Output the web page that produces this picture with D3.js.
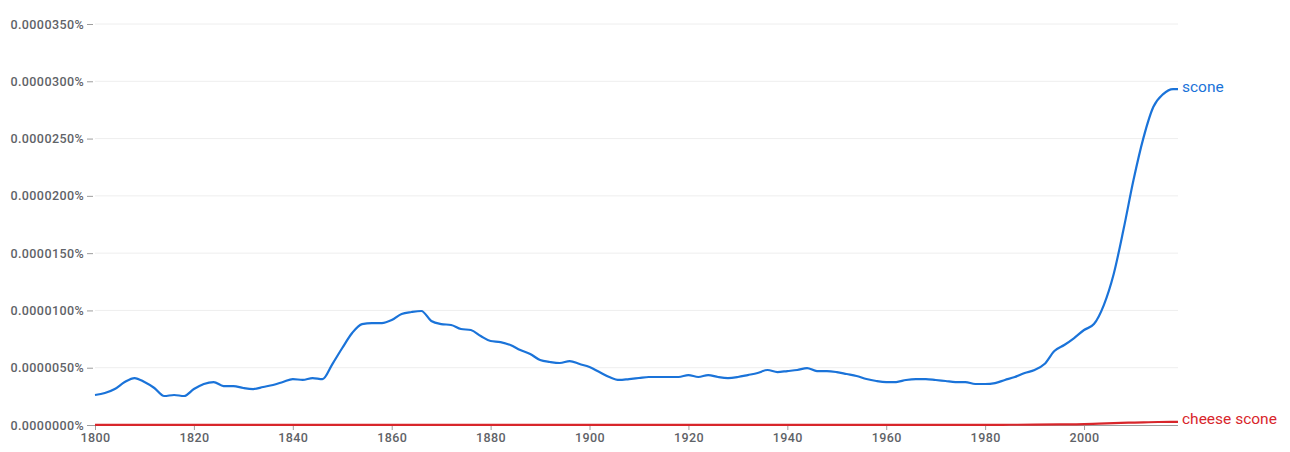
<!doctype html>
<html lang="en">
<head>
  <meta charset="utf-8">
  <script src="https://cdn.jsdelivr.net/npm/d3@7"></script>
  <style>
    body { margin: 0; background: #fff; font-family: Roboto, "Noto Sans", sans-serif; }
    .tick text { font-family: Roboto, sans-serif; }
  </style>
</head>
<body>
<script>
  // years for the scone series (every 2 years + last year)
  var sconeYears = [1800,1802,1804,1806,1808,1810,1812,1814,1816,1818,
    1820,1822,1824,1826,1828,1830,1832,1834,1836,1838,
    1840,1842,1844,1846,1848,1850,1852,1854,1856,1858,
    1860,1862,1864,1866,1868,1870,1872,1874,1876,1878,
    1880,1882,1884,1886,1888,1890,1892,1894,1896,1898,
    1900,1902,1904,1906,1908,1910,1912,1914,1916,1918,
    1920,1922,1924,1926,1928,1930,1932,1934,1936,1938,
    1940,1942,1944,1946,1948,1950,1952,1954,1956,1958,
    1960,1962,1964,1966,1968,1970,1972,1974,1976,1978,
    1980,1982,1984,1986,1988,1990,1992,1994,1996,1998,
    2000,2002,2004,2006,2008,2010,2012,2014,2016,2018,2019];

  // percent values
  var sconeValues = [2.62e-6,2.79e-6,3.14e-6,3.75e-6,4.10e-6,3.75e-6,3.23e-6,2.53e-6,2.62e-6,2.53e-6,
    3.14e-6,3.58e-6,3.75e-6,3.40e-6,3.40e-6,3.23e-6,3.14e-6,3.32e-6,3.49e-6,3.75e-6,
    4.01e-6,3.93e-6,4.10e-6,4.01e-6,5.32e-6,6.72e-6,8.03e-6,8.81e-6,8.90e-6,8.90e-6,
    9.16e-6,9.69e-6,9.86e-6,9.95e-6,9.08e-6,8.81e-6,8.73e-6,8.38e-6,8.29e-6,7.77e-6,
    7.33e-6,7.24e-6,6.98e-6,6.54e-6,6.20e-6,5.67e-6,5.50e-6,5.41e-6,5.58e-6,5.32e-6,
    5.06e-6,4.62e-6,4.19e-6,3.93e-6,4.01e-6,4.10e-6,4.19e-6,4.19e-6,4.19e-6,4.19e-6,
    4.36e-6,4.19e-6,4.36e-6,4.19e-6,4.10e-6,4.19e-6,4.36e-6,4.54e-6,4.80e-6,4.62e-6,
    4.71e-6,4.80e-6,4.97e-6,4.71e-6,4.71e-6,4.62e-6,4.45e-6,4.28e-6,4.01e-6,3.84e-6,
    3.75e-6,3.75e-6,3.93e-6,4.01e-6,4.01e-6,3.93e-6,3.84e-6,3.75e-6,3.75e-6,3.58e-6,
    3.58e-6,3.66e-6,3.93e-6,4.19e-6,4.54e-6,4.80e-6,5.32e-6,6.46e-6,6.98e-6,7.59e-6,
    8.29e-6,8.81e-6,10.47e-6,13.18e-6,17.10e-6,21.38e-6,25.04e-6,27.75e-6,28.88e-6,29.32e-6,29.32e-6];

  var cheeseYears = [1800,1850,1900,1950,1980,1985,1990,1995,2000,2003,2006,2009,2012,2015,2019];
  var cheeseValues = [0.01e-6,0.01e-6,0.01e-6,0.01e-6,0.01e-6,0.02e-6,0.03e-6,0.05e-6,0.08e-6,0.12e-6,0.16e-6,0.20e-6,0.23e-6,0.26e-6,0.28e-6];

  var yTicks = [0, 0.000005, 0.00001, 0.000015, 0.00002, 0.000025, 0.00003, 0.000035];
  var xTicks = [1800,1820,1840,1860,1880,1900,1920,1940,1960,1980,2000];

  var series = [
    { name: "scone", color: "#1a73d9", years: sconeYears, values: sconeValues },
    { name: "cheese scone", color: "#d8262b", years: cheeseYears, values: cheeseValues }
  ];

  var W = 1290, H = 452;
  var m = { left: 95, right: 112, top: 24, bottom: 27 };

  var svg = d3.select("body").append("svg")
    .attr("width", W).attr("height", H);

  var x = d3.scaleLinear().domain([1800, 2019]).range([m.left, W - m.right]);
  var y = d3.scaleLinear().domain([0, 0.000035]).range([H - m.bottom, m.top]);

  // gridlines
  svg.append("g").selectAll("line")
    .data(yTicks.slice(1))
    .enter().append("line")
    .attr("x1", m.left).attr("x2", W - m.right)
    .attr("y1", function(d){ return y(d); })
    .attr("y2", function(d){ return y(d); })
    .style("stroke", "#eeeeee").style("stroke-width", 1);

  // y axis
  var yAxis = svg.append("g")
    .attr("transform", "translate(" + (m.left - 2) + ",0)")
    .call(d3.axisLeft(y).tickValues(yTicks).tickSize(6).tickPadding(3)
      .tickFormat(function(d){ return d3.format(".7f")(d) + "%"; }));
  yAxis.select(".domain").remove();
  yAxis.selectAll(".tick line").style("stroke", "#9e9e9e");
  yAxis.selectAll(".tick text")
    .style("font-size", "12.5px").style("font-weight", 500)
    .style("fill", "#5f6368").style("letter-spacing", "0.4px");

  // x axis
  var xAxis = svg.append("g")
    .attr("transform", "translate(0," + (H - m.bottom) + ")")
    .call(d3.axisBottom(x).tickValues(xTicks).tickSize(5).tickPadding(3)
      .tickFormat(d3.format("d")));
  xAxis.select(".domain").attr("d", "M" + (m.left - 6) + ",0.5H" + (W - m.right))
    .style("stroke", "#9e9e9e");
  xAxis.selectAll(".tick line").style("stroke", "#9e9e9e");
  xAxis.selectAll(".tick text")
    .style("font-size", "12.5px").style("font-weight", 500)
    .style("fill", "#5f6368").style("letter-spacing", "0.4px");

  var line = d3.line()
    .x(function(d){ return x(d[0]); })
    .y(function(d){ return y(d[1]); })
    .curve(d3.curveMonotoneX);

  series.slice().reverse().forEach(function(s){
    var pts = s.years.map(function(yr, i){ return [yr, s.values[i]]; });
    svg.append("path")
      .datum(pts)
      .attr("d", line)
      .style("fill", "none")
      .style("stroke", s.color)
      .style("stroke-width", 2.2)
      .style("stroke-linejoin", "round");
    var last = pts[pts.length - 1];
    svg.append("text")
      .attr("x", x(last[0]) + 4)
      .attr("y", y(last[1]) - 3)
      .attr("dy", "0.35em")
      .style("font-size", "15.5px")
      .style("fill", s.color)
      .text(s.name);
  });
</script>
</body>
</html>
